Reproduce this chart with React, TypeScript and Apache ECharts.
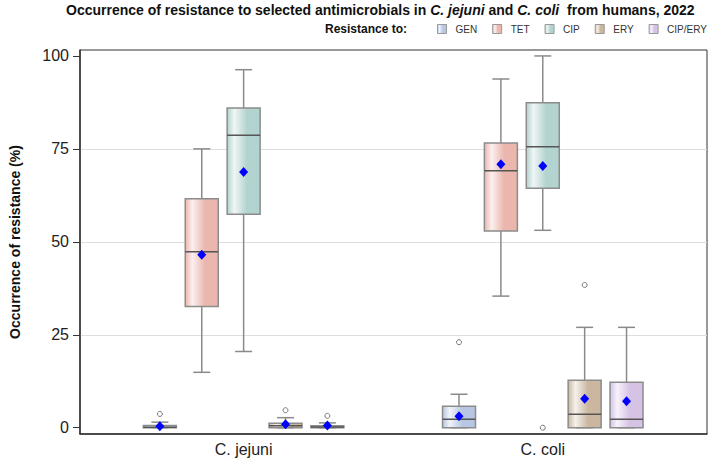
import { useEffect, useRef } from 'react';
import * as echarts from 'echarts';

const groups = ['C. jejuni', 'C. coli'];
const antimicrobials = ['GEN', 'TET', 'CIP', 'ERY', 'CIP/ERY'];

// Box statistics [min, Q1, median, Q3, max] for [C. jejuni, C. coli]
const genBox = [[0, 0, 0.1, 0.6, 1.5], [0, 0, 2.3, 5.8, 9.0]];
const tetBox = [[14.9, 32.6, 47.3, 61.6, 75.0], [35.4, 52.9, 69.1, 76.6, 93.8]];
const cipBox = [[20.5, 57.4, 78.7, 86.0, 96.3], [53.1, 64.4, 75.6, 87.4, 100]];
const eryBox = [[0, 0, 0.5, 1.2, 2.7], [0, 0, 3.6, 12.8, 27.0]];
const cipEryBox = [[0, 0, 0.2, 0.5, 1.3], [0, 0, 2.3, 12.2, 27.0]];

// Means for [C. jejuni, C. coli]
const genMean = [0.4, 3.1];
const tetMean = [46.5, 70.9];
const cipMean = [68.8, 70.4];
const eryMean = [0.9, 7.8];
const cipEryMean = [0.6, 7.1];

// Outliers for [C. jejuni, C. coli]
const genOutliers = [[3.7], [23.0]];
const tetOutliers = [[], []];
const cipOutliers = [[], [0]];
const eryOutliers = [[4.7], [38.4]];
const cipEryOutliers = [[3.2], []];

const yTicks = [0, 25, 50, 75, 100];

const boxStats = [genBox, tetBox, cipBox, eryBox, cipEryBox];
const meanValues = [genMean, tetMean, cipMean, eryMean, cipEryMean];
const outlierValues = [genOutliers, tetOutliers, cipOutliers, eryOutliers, cipEryOutliers];

const boxColors = ['#b7c6e2', '#ebb6ad', '#b2d3cf', '#cbb79f', '#d6c2e4'];
const FONT = '"Liberation Sans", Arial, Helvetica, sans-serif';
const SLOT = 0.14;

function mixWhite(hex: string, t: number): string {
  const n = parseInt(hex.slice(1), 16);
  const r = (n >> 16) & 255, g = (n >> 8) & 255, b = n & 255;
  const m = (c: number) => Math.round(c + (255 - c) * t);
  return `rgb(${m(r)},${m(g)},${m(b)})`;
}

function gradient(c: string) {
  return new echarts.graphic.LinearGradient(0, 0, 1, 0, [
    { offset: 0, color: c },
    { offset: 0.22, color: mixWhite(c, 0.8) },
    { offset: 0.6, color: c },
    { offset: 1, color: c },
  ]);
}

function xPos(g: number, k: number) {
  return g + (k - 2) * SLOT;
}

export default function App() {
  const ref = useRef<HTMLDivElement>(null);
  useEffect(() => {
    if (!ref.current) return;
    const chart = echarts.init(ref.current, null, { renderer: 'svg' });

    const boxSeries = antimicrobials.map((name, k) => ({
      name,
      type: 'custom',
      itemStyle: { color: gradient(boxColors[k]), borderColor: '#8c8c8c', borderWidth: 1 },
      encode: { x: 0, y: [1, 2, 3, 4, 5] },
      data: boxStats[k].map((s, g) => [xPos(g, k), ...s]),
      renderItem: (params: any, api: any) => {
        const x = api.value(0);
        const lo = api.coord([x, api.value(1)]);
        const q1 = api.coord([x, api.value(2)]);
        const med = api.coord([x, api.value(3)]);
        const q3 = api.coord([x, api.value(4)]);
        const hi = api.coord([x, api.value(5)]);
        const cx = lo[0];
        const hw = 16.5;
        const cap = 8.5;
        const ws = { stroke: '#8a8a8a', lineWidth: 1.5 };
        return {
          type: 'group',
          children: [
            { type: 'line', shape: { x1: cx, y1: hi[1], x2: cx, y2: q3[1] }, style: ws },
            { type: 'line', shape: { x1: cx, y1: q1[1], x2: cx, y2: lo[1] }, style: ws },
            { type: 'line', shape: { x1: cx - cap, y1: hi[1], x2: cx + cap, y2: hi[1] }, style: ws },
            { type: 'line', shape: { x1: cx - cap, y1: lo[1], x2: cx + cap, y2: lo[1] }, style: ws },
            {
              type: 'rect',
              shape: { x: cx - hw, y: q3[1], width: hw * 2, height: Math.max(q1[1] - q3[1], 1) },
              style: { fill: gradient(boxColors[k]), stroke: '#8c8c8c', lineWidth: 1.5 },
            },
            { type: 'line', shape: { x1: cx - hw, y1: med[1], x2: cx + hw, y2: med[1] }, style: { stroke: '#555', lineWidth: 1.5 } },
          ],
        };
      },
      z: 2,
    }));

    const meanData: number[][] = [];
    const outData: number[][] = [];
    antimicrobials.forEach((_, k) => {
      groups.forEach((__, g) => {
        meanData.push([xPos(g, k), meanValues[k][g]]);
        outlierValues[k][g].forEach((v) => outData.push([xPos(g, k), v]));
      });
    });

    chart.setOption({
      animation: false,
      title: {
        left: 66,
        top: 3,
        padding: 0,
        text: '{b|Occurrence of resistance to selected antimicrobials in }{bi|C. jejuni}{b| and }{bi|C. coli}{b|  from humans, 2022}',
        textStyle: {
          rich: {
            b: { fontFamily: FONT, fontWeight: 'bold', fontSize: 14, color: '#111' },
            bi: { fontFamily: FONT, fontWeight: 'bold', fontStyle: 'italic', fontSize: 14, color: '#111' },
          },
        },
      },
      graphic: [
        {
          type: 'text',
          right: 302,
          top: 23,
          style: { text: 'Resistance to:', font: `bold 12px ${FONT}`, fill: '#111' },
        },
      ],
      legend: {
        data: antimicrobials,
        left: 437,
        top: 24,
        width: 272,
        padding: 0,
        icon: 'rect',
        itemWidth: 9,
        itemHeight: 9,
        itemGap: 15,
        itemStyle: { borderColor: '#999', borderWidth: 1 },
        textStyle: { fontFamily: FONT, fontSize: 10, color: '#333', padding: [0, 0, 0, 4] },
      },
      grid: { left: 73, right: 2, top: 50, bottom: 28, show: true, borderColor: '#333', borderWidth: 1, backgroundColor: 'transparent' },
      xAxis: {
        type: 'value',
        min: -0.547,
        max: 1.549,
        axisLine: { show: true, onZero: false, lineStyle: { color: '#333', width: 1.5 } },
        axisTick: { show: false },
        splitLine: { show: false },
        axisLabel: {
          customValues: [0, 1],
          formatter: (v: number) => groups[Math.round(v)] ?? '',
          fontFamily: FONT,
          fontSize: 16,
          color: '#222',
          margin: 7,
        },
      },
      yAxis: {
        type: 'value',
        min: -1.69,
        max: 101.6,
        minInterval: 25,
        maxInterval: 25,
        name: 'Occurrence of resistance (%)',
        nameLocation: 'middle',
        nameGap: 58,
        nameTextStyle: { fontFamily: FONT, fontWeight: 'bold', fontSize: 14, color: '#111' },
        axisLine: { show: true, onZero: false, lineStyle: { color: '#333', width: 1.5 } },
        axisTick: { show: true, length: 7, customValues: yTicks, lineStyle: { color: '#333' } },
        axisLabel: { customValues: yTicks, fontFamily: FONT, fontSize: 16, color: '#222', margin: 11 },
        splitLine: { show: true, showMinLine: false, showMaxLine: false, lineStyle: { color: '#dedede', width: 1 } },
      },
      series: [
        ...boxSeries,
        {
          name: 'Mean',
          type: 'scatter',
          data: meanData,
          symbol: 'diamond',
          symbolSize: [9, 10],
          itemStyle: { color: '#0000ff', opacity: 1 },
          z: 5,
        },
        {
          name: 'Outliers',
          type: 'scatter',
          data: outData,
          symbol: 'circle',
          symbolSize: 5,
          itemStyle: { color: '#fff', borderColor: '#777', borderWidth: 1, opacity: 1 },
          z: 4,
        },
      ],
    });
    return () => chart.dispose();
  }, []);
  return <div ref={ref} style={{ position: 'absolute', left: 0, top: 0, width: 709, height: 462 }} />;
}
